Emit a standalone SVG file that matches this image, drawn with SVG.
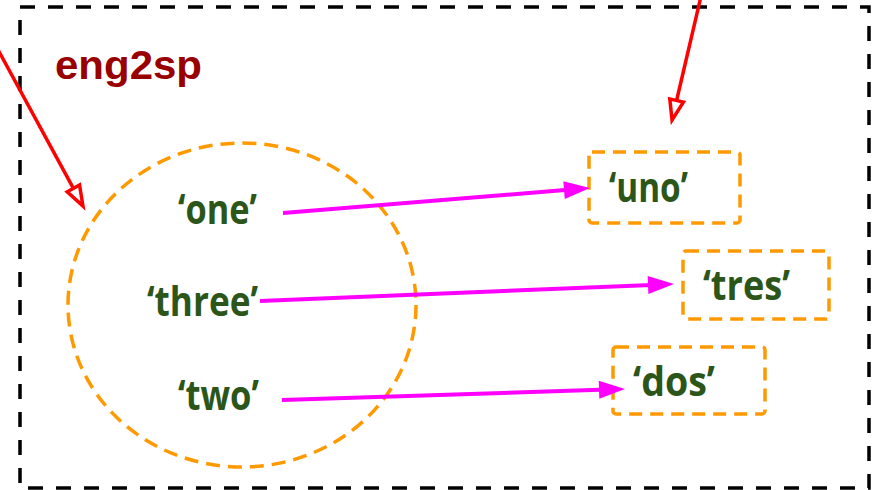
<svg xmlns="http://www.w3.org/2000/svg" width="879" height="490" viewBox="0 0 879 490">
  <style>
    .frame { fill: none; stroke: #000; stroke-width: 3.5; stroke-dasharray: 15 13; }
    .set { fill: none; stroke: #FF9900; stroke-width: 3.5; stroke-dasharray: 14 8; }
    .box { fill: none; stroke: #FF9900; stroke-width: 3.5; stroke-dasharray: 13 8; }
    .word { font-family: "Open Sans", "Liberation Sans", sans-serif; font-weight: bold; font-size: 41px; fill: #2B5519; }
    .title { font-family: "Liberation Sans", Arial, sans-serif; font-weight: bold; font-size: 40px; fill: #990000; }
    .map { fill: none; stroke: #FF00FF; stroke-width: 4; }
    .ref { fill: none; stroke: #FF0000; stroke-width: 3.5; }
  </style>
  <defs>
    <marker id="magHead" markerUnits="userSpaceOnUse" markerWidth="28" markerHeight="20" refX="16" refY="9" orient="auto" overflow="visible">
      <path d="M0,0 L26,9 L0,18 z" fill="#FF00FF"/>
    </marker>
    <marker id="redHead" markerUnits="userSpaceOnUse" markerWidth="24" markerHeight="18" refX="0" refY="7" orient="auto" overflow="visible">
      <path d="M0,0 L20,7 L0,14 z" fill="#fff" stroke="#FF0000" stroke-width="3.5" stroke-linejoin="miter"/>
    </marker>
  </defs>

  <g id="eng2sp">
    <rect class="frame" x="20" y="7" width="849" height="481"/>
    <text class="title" x="55" y="79" textLength="147" lengthAdjust="spacingAndGlyphs">eng2sp</text>
  </g>

  <g id="keys">
    <ellipse class="set" cx="242" cy="305" rx="174" ry="162"/>
  </g>
  <g id="key-one">
    <text class="word" x="178" y="224" textLength="79" lengthAdjust="spacingAndGlyphs">‘one’</text>
  </g>
  <g id="key-three">
    <text class="word" x="147" y="316" textLength="111" lengthAdjust="spacingAndGlyphs">‘three’</text>
  </g>
  <g id="key-two">
    <text class="word" x="178" y="410" textLength="81" lengthAdjust="spacingAndGlyphs">‘two’</text>
  </g>

  <g id="val-uno">
    <rect class="box" x="589" y="152" width="151" height="71" rx="3"/>
    <text class="word" x="609" y="202" textLength="79" lengthAdjust="spacingAndGlyphs">‘uno’</text>
  </g>
  <g id="val-tres">
    <rect class="box" x="683" y="251" width="146" height="68" rx="3"/>
    <text class="word" x="703" y="300" textLength="87" lengthAdjust="spacingAndGlyphs">‘tres’</text>
  </g>
  <g id="val-dos">
    <rect class="box" x="613" y="347" width="152" height="67" rx="3"/>
    <text class="word" x="633" y="396" textLength="82" lengthAdjust="spacingAndGlyphs">‘dos’</text>
  </g>

  <g id="connectors">
    <line class="map" x1="283" y1="213" x2="580" y2="188.8" marker-end="url(#magHead)"/>
    <line class="map" x1="260" y1="301" x2="664" y2="284.4" marker-end="url(#magHead)"/>
    <line class="map" x1="282" y1="400" x2="615" y2="389.3" marker-end="url(#magHead)"/>
    <line class="ref" x1="-10" y1="35" x2="73.4" y2="188.4" marker-end="url(#redHead)"/>
    <line class="ref" x1="702" y1="-8" x2="676.6" y2="100.5" marker-end="url(#redHead)"/>
  </g>
</svg>
